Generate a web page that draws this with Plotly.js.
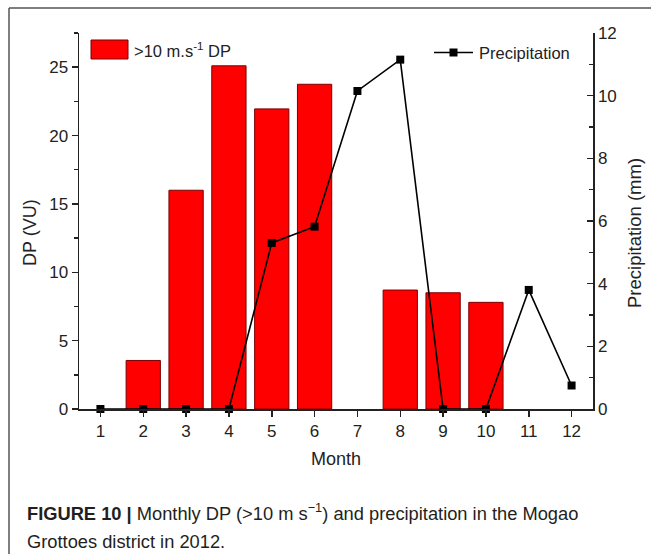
<!DOCTYPE html>
<html><head><meta charset="utf-8">
<script src="https://cdn.plot.ly/plotly-3.0.1.min.js"></script>
<style>html,body{margin:0;padding:0;background:#fff}#chart{width:651px;height:554px}</style>
</head><body><div id="chart"></div>
<script>
// ---- data ----
const months = [1, 2, 3, 4, 5, 6, 7, 8, 9, 10, 11, 12];
const monthTickLabels = ['1', '2', '3', '4', '5', '6', '7', '8', '9', '10', '11', '12'];
const dpValues = [0, 3.55, 16.0, 25.1, 21.95, 23.75, 0, 8.7, 8.5, 7.8, 0, 0];
const precipValues = [0, 0, 0, 0, 5.3, 5.82, 10.15, 11.15, 0, 0, 3.8, 0.75];
const dpLegendLabel = '&gt;10 m.s<sup>-1</sup> DP';
const precipLegendLabel = 'Precipitation';
const xTitle = 'Month';
const yTitle = 'DP (VU)';
const y2Title = 'Precipitation (mm)';
const captionLine1 = '<b>FIGURE 10 |</b> Monthly DP (&gt;10 m s<sup>\u22121</sup>) and precipitation in the Mogao';
const captionLine2 = 'Grottoes district in 2012.';

// ---- layout helpers (pixel -> paper) ----
const W = 651, H = 554;
const L = 79, R = 593, T = 33, B = 409;
const px = v => (v - L) / (R - L);
const py = v => (B - v) / (B - T);
const FONT = 'Liberation Sans, Arial, sans-serif';
const INK = '#222';

const bars = {
  type: 'bar', x: months, y: dpValues, width: 0.8, name: dpLegendLabel,
  marker: {color: '#ff0000', line: {color: '#7a0000', width: dpValues.map(v => v > 0 ? 1 : 0)}},
  showlegend: false
};
const line = {
  type: 'scatter', mode: 'lines+markers', x: months, y: precipValues, yaxis: 'y2',
  name: precipLegendLabel, cliponaxis: false,
  line: {color: '#000', width: 1.6},
  marker: {symbol: 'square', size: 8, color: '#000'},
  showlegend: false
};

const axisCommon = {
  showline: true, linecolor: INK, linewidth: 1.5, showgrid: false, zeroline: false,
  tickcolor: INK, tickwidth: 1.5, tickfont: {family: FONT, size: 17, color: INK}
};

const layout = {
  width: W, height: H,
  margin: {l: L, r: W - R, t: T, b: H - B, pad: 0},
  paper_bgcolor: '#fff', plot_bgcolor: '#fff',
  font: {family: FONT, color: INK},
  xaxis: Object.assign({}, axisCommon, {
    range: [0.5, 12.5], tickvals: months, ticktext: monthTickLabels,
    ticks: 'outside', ticklen: 6,
    title: {text: xTitle, font: {family: FONT, size: 18, color: INK}, standoff: 12}
  }),
  yaxis: Object.assign({}, axisCommon, {
    range: [0, 27.5], tick0: 0, dtick: 5, ticks: 'outside', ticklen: 6,
    minor: {ticks: 'outside', dtick: 2.5, ticklen: 4, tickcolor: INK, tickwidth: 1.5}
  }),
  yaxis2: Object.assign({}, axisCommon, {
    overlaying: 'y', side: 'right', range: [0, 12], tick0: 0, dtick: 2,
    ticks: 'inside', ticklen: 6,
    minor: {ticks: 'inside', dtick: 1, ticklen: 4, tickcolor: INK, tickwidth: 1.5}
  }),
  shapes: [
    // figure frame
    {type: 'line', xref: 'paper', yref: 'paper', x0: px(9), x1: px(651), y0: py(8), y1: py(8), line: {color: '#555', width: 1.5}},
    {type: 'line', xref: 'paper', yref: 'paper', x0: px(9), x1: px(9), y0: py(8), y1: py(554), line: {color: '#555', width: 1.5}},
    // legend symbols
    {type: 'rect', xref: 'paper', yref: 'paper', x0: px(91), x1: px(128), y0: py(59), y1: py(40), fillcolor: '#ff0000', line: {color: '#7a0000', width: 1}},
    {type: 'line', xref: 'paper', yref: 'paper', x0: px(434), x1: px(473), y0: py(52.5), y1: py(52.5), line: {color: '#000', width: 1.6}},
    {type: 'rect', xref: 'paper', yref: 'paper', x0: px(449.5), x1: px(457.5), y0: py(56.5), y1: py(48.5), fillcolor: '#000', line: {width: 0}}
  ],
  annotations: [
    // axis titles
    {xref: 'paper', yref: 'paper', x: px(30), y: py(233), xanchor: 'center', yanchor: 'middle', textangle: -90, showarrow: false,
     text: yTitle, font: {family: FONT, size: 18, color: INK}},
    {xref: 'paper', yref: 'paper', x: px(634), y: py(233), xanchor: 'center', yanchor: 'middle', textangle: -90, showarrow: false,
     text: y2Title, font: {family: FONT, size: 18.5, color: INK}},
    // legends
    {xref: 'paper', yref: 'paper', x: px(132), y: py(50), xanchor: 'left', yanchor: 'middle', showarrow: false,
     text: dpLegendLabel, font: {family: FONT, size: 16.5, color: INK}},
    {xref: 'paper', yref: 'paper', x: px(477), y: py(53), xanchor: 'left', yanchor: 'middle', showarrow: false,
     text: precipLegendLabel, font: {family: FONT, size: 16.5, color: INK}},
    // caption
    {xref: 'paper', yref: 'paper', x: px(25), y: py(512), xanchor: 'left', yanchor: 'middle', showarrow: false,
     text: captionLine1, font: {family: FONT, size: 18.3, color: '#231f20'}},
    {xref: 'paper', yref: 'paper', x: px(25), y: py(541), xanchor: 'left', yanchor: 'middle', showarrow: false,
     text: captionLine2, font: {family: FONT, size: 18.3, color: '#231f20'}}
  ]
};

Plotly.newPlot('chart', [bars, line], layout, {displayModeBar: false, staticPlot: true});
</script>
</body></html>
